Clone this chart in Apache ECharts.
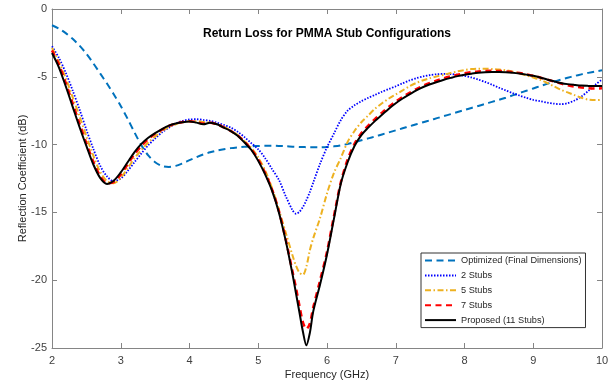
<!DOCTYPE html>
<html>
<head>
<meta charset="utf-8">
<script src="https://cdn.jsdelivr.net/npm/echarts@6/dist/echarts.min.js"></script>
<style>
  html, body { margin: 0; padding: 0; background: #fff; }
  #chart { width: 615px; height: 385px; }
</style>
</head>
<body>
<div id="chart"></div>
<script>
// Frequency samples (GHz), denser around the resonance near 5.7 GHz
const freq = [
  2.0, 2.1, 2.2, 2.3, 2.4, 2.5, 2.6, 2.7, 2.8, 2.9,
  3.0, 3.1, 3.2, 3.3, 3.4, 3.5, 3.6, 3.7, 3.8, 3.9,
  4.0, 4.1, 4.2, 4.3, 4.4, 4.5, 4.6, 4.7, 4.8, 4.9,
  5.0, 5.1, 5.2, 5.3, 5.4, 5.5, 5.55, 5.6, 5.65, 5.7, 5.75,
  5.8, 5.9, 6.0, 6.1, 6.2, 6.3, 6.4, 6.5, 6.6, 6.7, 6.8, 6.9,
  7.0, 7.1, 7.2, 7.3, 7.4, 7.5, 7.6, 7.7, 7.8, 7.9,
  8.0, 8.1, 8.2, 8.3, 8.4, 8.5, 8.6, 8.7, 8.8, 8.9,
  9.0, 9.1, 9.2, 9.3, 9.4, 9.5, 9.6, 9.7, 9.8, 9.9, 10.0
];

// S11 (dB) for each configuration
const optimized = [
  -1.2, -1.45, -1.78, -2.2, -2.7, -3.3, -4.0, -4.75, -5.5, -6.3,
  -7.15, -8.1, -9.1, -10.05, -10.8, -11.3, -11.58, -11.65, -11.57, -11.38,
  -11.15, -10.93, -10.73, -10.57, -10.44, -10.34, -10.26, -10.2, -10.15, -10.12,
  -10.1, -10.08, -10.08, -10.1, -10.12, -10.15, -10.16, -10.17, -10.18, -10.19, -10.2,
  -10.2, -10.2, -10.18, -10.13, -10.06, -9.95, -9.82, -9.68, -9.54, -9.4, -9.25, -9.1,
  -8.95, -8.8, -8.65, -8.5, -8.35, -8.2, -8.05, -7.9, -7.75, -7.6,
  -7.45, -7.3, -7.15, -7.0, -6.85, -6.7, -6.54, -6.37, -6.2, -6.03,
  -5.86, -5.69, -5.52, -5.36, -5.21, -5.07, -4.94, -4.82, -4.71, -4.61, -4.52
];

const stubs2 = [
  -2.75, -3.6, -4.7, -6.0, -7.4, -8.9, -10.3, -11.55, -12.35, -12.7,
  -12.5, -11.95, -11.3, -10.65, -10.05, -9.55, -9.1, -8.75, -8.45, -8.25,
  -8.15, -8.13, -8.18, -8.25, -8.38, -8.55, -8.75, -9.05, -9.45, -9.9,
  -10.35, -11.0, -11.8, -12.6, -13.8, -14.85, -15.1, -14.95, -14.6, -14.1, -13.5,
  -12.8, -11.4, -10.2, -9.2, -8.2, -7.5, -7.1, -6.8, -6.55, -6.33, -6.1, -5.9,
  -5.7, -5.48, -5.27, -5.1, -4.97, -4.87, -4.81, -4.79, -4.8, -4.85,
  -4.93, -5.05, -5.2, -5.38, -5.58, -5.8, -6.0, -6.2, -6.38, -6.55,
  -6.7, -6.8, -6.9, -6.98, -7.02, -6.95, -6.75, -6.45, -6.05, -5.6, -5.2
];

const stubs5 = [
  -2.87, -3.9, -5.1, -6.5, -7.9, -9.4, -10.8, -12.0, -12.7, -12.85,
  -12.45, -11.75, -11.0, -10.4, -9.85, -9.4, -9.0, -8.7, -8.5, -8.35,
  -8.28, -8.27, -8.33, -8.38, -8.5, -8.7, -8.95, -9.3, -9.75, -10.25,
  -10.95, -11.9, -13.2, -14.8, -16.5, -18.2, -18.95, -19.45, -19.6, -19.0, -17.8,
  -16.9, -15.4, -13.6, -12.1, -11.0, -9.8, -9.0, -8.35, -7.85, -7.35, -6.95, -6.6,
  -6.3, -6.0, -5.7, -5.45, -5.25, -5.1, -4.97, -4.85, -4.72, -4.6,
  -4.5, -4.43, -4.4, -4.4, -4.42, -4.46, -4.52, -4.62, -4.75, -4.9,
  -5.05, -5.22, -5.45, -5.7, -5.95, -6.15, -6.35, -6.55, -6.68, -6.72, -6.7
];

const stubs7 = [
  -3.05, -4.1, -5.45, -6.95, -8.45, -9.9, -11.25, -12.3, -12.85, -12.75,
  -12.2, -11.45, -10.7, -10.1, -9.6, -9.2, -8.9, -8.62, -8.45, -8.33,
  -8.28, -8.33, -8.45, -8.38, -8.5, -8.73, -9.0, -9.33, -9.8, -10.35,
  -11.1, -12.1, -13.3, -14.9, -17.0, -19.4, -20.6, -21.9, -23.1, -23.6, -23.2,
  -22.0, -20.0, -17.9, -15.3, -12.8, -11.1, -9.95, -9.15, -8.6, -8.1, -7.65, -7.2,
  -6.82, -6.48, -6.18, -5.9, -5.66, -5.45, -5.27, -5.1, -4.96, -4.84,
  -4.74, -4.66, -4.6, -4.57, -4.56, -4.57, -4.6, -4.65, -4.72, -4.81,
  -4.92, -5.05, -5.2, -5.35, -5.5, -5.62, -5.72, -5.79, -5.84, -5.86, -5.85
];

const proposed = [
  -3.25, -4.3, -5.7, -7.2, -8.7, -10.1, -11.45, -12.45, -12.9, -12.65,
  -12.05, -11.3, -10.55, -9.95, -9.5, -9.15, -8.85, -8.6, -8.45, -8.35,
  -8.3, -8.38, -8.5, -8.38, -8.5, -8.75, -9.0, -9.35, -9.85, -10.4,
  -11.2, -12.2, -13.4, -15.0, -17.1, -19.6, -21.0, -22.4, -23.8, -24.8, -23.9,
  -22.3, -20.3, -18.1, -15.5, -12.9, -11.3, -10.1, -9.3, -8.75, -8.25, -7.8, -7.35,
  -6.95, -6.6, -6.3, -6.0, -5.75, -5.55, -5.38, -5.22, -5.08, -4.95,
  -4.85, -4.77, -4.7, -4.66, -4.64, -4.64, -4.66, -4.7, -4.76, -4.84,
  -4.93, -5.05, -5.2, -5.33, -5.45, -5.54, -5.6, -5.65, -5.67, -5.68, -5.68
];

const xTicks = { min: 2, max: 10, step: 1 };
const yTicks = { min: -25, max: 0, step: 5 };

const seriesNames = [
  'Optimized (Final Dimensions)',
  '2 Stubs',
  '5 Stubs',
  '7 Stubs',
  'Proposed (11 Stubs)'
];

const FONT = '"Liberation Sans", Arial, Helvetica, sans-serif';
const AXIS_COLOR = '#858585';
const LABEL_COLOR = '#404040';

function pairs(values) {
  return freq.map((f, i) => [f, values[i]]);
}

function axisBase(extra) {
  return Object.assign({
    type: 'value',
    axisLine: { show: true, onZero: false, lineStyle: { color: AXIS_COLOR, width: 1 } },
    axisTick: { show: true, inside: true, length: 5, lineStyle: { color: AXIS_COLOR, width: 1 } },
    splitLine: { show: false },
    axisLabel: { color: LABEL_COLOR, fontSize: 11, fontFamily: FONT }
  }, extra);
}

function lineSeries(name, values, color, width, dash, z) {
  return {
    name: name,
    type: 'line',
    data: pairs(values),
    showSymbol: false,
    symbol: 'none',
    smooth: 0.3,
    z: z,
    itemStyle: { color: color },
    lineStyle: { color: color, width: width, type: dash, cap: 'butt' }
  };
}

const chart = echarts.init(document.getElementById('chart'), null, { renderer: 'canvas' });

chart.setOption({
  animation: false,
  backgroundColor: '#ffffff',
  title: {
    text: 'Return Loss for PMMA Stub Configurations',
    left: 327,
    top: 28,
    textAlign: 'center',
    padding: 0,
    textStyle: { fontSize: 12, fontWeight: 'bold', color: '#000', fontFamily: FONT }
  },
  grid: { left: 52, right: 13, top: 9, bottom: 34, containLabel: false },
  xAxis: [
    axisBase({
      position: 'bottom',
      min: xTicks.min, max: xTicks.max, interval: xTicks.step,
      name: 'Frequency (GHz)',
      nameLocation: 'middle',
      nameGap: 21,
      nameMoveOverlap: false,
      nameTextStyle: { color: '#262626', fontSize: 11, fontFamily: FONT },
      axisLabel: { color: LABEL_COLOR, fontSize: 11, fontFamily: FONT, margin: 7 }
    }),
    axisBase({
      position: 'top',
      min: xTicks.min, max: xTicks.max, interval: xTicks.step,
      axisLabel: { show: false }
    })
  ],
  yAxis: [
    axisBase({
      position: 'left',
      min: yTicks.min, max: yTicks.max, interval: yTicks.step,
      name: 'Reflection Coefficient (dB)',
      nameLocation: 'middle',
      nameGap: 24,
      nameMoveOverlap: false,
      nameTextStyle: { color: '#262626', fontSize: 11, fontFamily: FONT },
      axisLabel: { color: LABEL_COLOR, fontSize: 11, fontFamily: FONT, margin: 5 }
    }),
    axisBase({
      position: 'right',
      min: yTicks.min, max: yTicks.max, interval: yTicks.step,
      axisLabel: { show: false }
    })
  ],
  legend: {
    orient: 'vertical',
    left: 421,
    top: 253,
    padding: [3, 4, 3, 3],
    itemWidth: 31,
    itemHeight: 10,
    itemGap: 5.9,
    backgroundColor: '#ffffff',
    borderColor: '#333333',
    borderWidth: 1,
    borderRadius: 0,
    // hide the centre marker so each sample shows only the line style
    itemStyle: { opacity: 0 },
    textStyle: { fontSize: 9.2, color: '#262626', fontFamily: FONT },
    data: seriesNames
  },
  series: [
    lineSeries(seriesNames[0], optimized, '#0072BD', 2, [7, 4.5], 2),
    lineSeries(seriesNames[1], stubs2, '#0000FF', 1.8, [1.5, 1.5], 3),
    lineSeries(seriesNames[2], stubs5, '#EDB120', 2, [6, 2.5, 1.5, 2.5], 4),
    lineSeries(seriesNames[3], stubs7, '#FF0000', 2.5, [6, 4.5], 5),
    lineSeries(seriesNames[4], proposed, '#000000', 2, 'solid', 6)
  ]
});
</script>
</body>
</html>
